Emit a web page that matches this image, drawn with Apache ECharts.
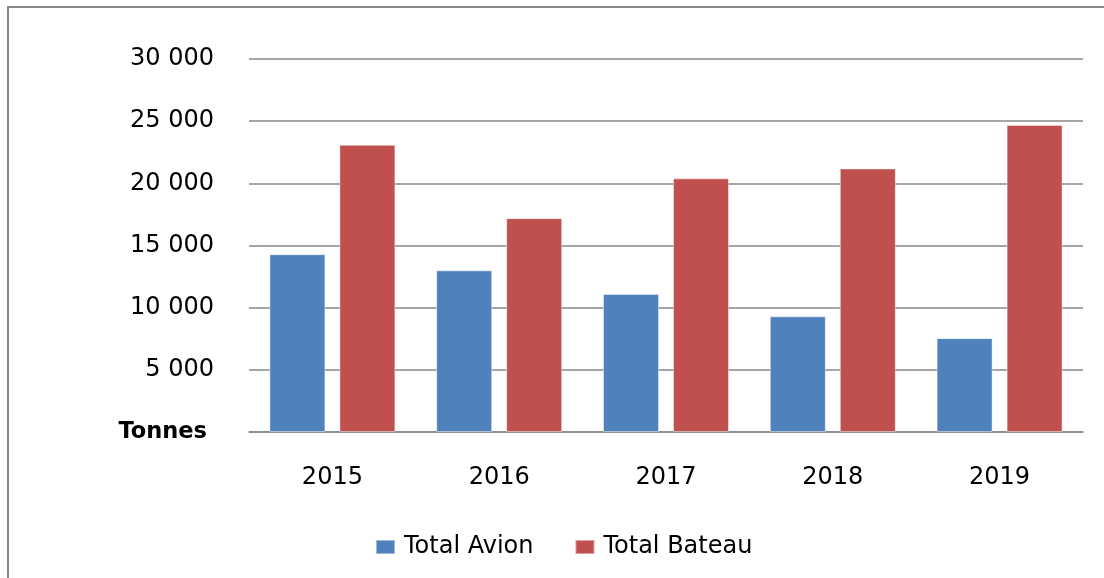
<!DOCTYPE html>
<html>
<head>
<meta charset="utf-8">
<script src="https://cdn.jsdelivr.net/npm/echarts@6/dist/echarts.min.js"></script>
<style>
  html, body { margin: 0; padding: 0; background: #fff; }
  #chart { width: 1104px; height: 578px; }
</style>
</head>
<body>
<div id="chart"></div>
<script>
// valeurs (tonnes)
const years = ['2015', '2016', '2017', '2018', '2019']
const avion = [14300, 13000, 11100, 9300, 7550]
const bateau = [23100, 17200, 20400, 21200, 24700]
const seriesNames = ['Total Avion', 'Total Bateau']

const font = 'DejaVu Sans'

function fmt(v) {
  if (v === 0) return '{t|Tonnes}'
  return String(v).replace(/\B(?=(\d{3})+(?!\d))/g, ' ')
}

const chart = echarts.init(document.getElementById('chart'))
chart.setOption({
  animation: false,
  backgroundColor: '#fff',
  graphic: [
    {
      type: 'rect',
      shape: { x: 8, y: 7, width: 1200, height: 700 },
      style: { fill: 'none', stroke: '#888', lineWidth: 2 },
      silent: true
    }
  ],
  grid: {
    left: 249,
    right: 21,
    top: 59,
    bottom: 146
  },
  legend: {
    data: seriesNames,
    left: 370,
    top: 530,
    itemWidth: 19,
    itemHeight: 14,
    itemGap: 41,
    icon: 'rect',
    textStyle: {
      fontFamily: font,
      fontSize: 24,
      color: '#000',
      padding: [0, 0, 0, 4]
    }
  },
  xAxis: {
    type: 'category',
    data: years,
    axisTick: { show: false },
    axisLine: { lineStyle: { color: '#888', width: 1.5 } },
    axisLabel: {
      fontFamily: font,
      fontSize: 24,
      color: '#000',
      margin: 34
    }
  },
  yAxis: {
    type: 'value',
    min: 0,
    max: 30000,
    interval: 5000,
    axisLine: { show: false },
    axisTick: { show: false },
    splitLine: { lineStyle: { color: '#888', width: 1.5 } },
    axisLabel: {
      fontFamily: font,
      fontSize: 24,
      color: '#000',
      margin: 35,
      formatter: fmt,
      rich: {
        t: {
          fontFamily: font,
          fontSize: 22.5,
          fontWeight: 'bold',
          color: '#000',
          padding: [0, 7, 0, 0]
        }
      }
    }
  },
  series: [
    {
      name: seriesNames[0],
      type: 'bar',
      data: avion,
      barWidth: 56,
      barGap: '25%',
      itemStyle: { color: '#4F81BD', borderColor: 'rgba(255,255,255,0.45)', borderWidth: 1 }
    },
    {
      name: seriesNames[1],
      type: 'bar',
      data: bateau,
      barWidth: 56,
      barGap: '25%',
      itemStyle: { color: '#C0504D', borderColor: 'rgba(255,255,255,0.45)', borderWidth: 1 }
    }
  ]
})
</script>
</body>
</html>
